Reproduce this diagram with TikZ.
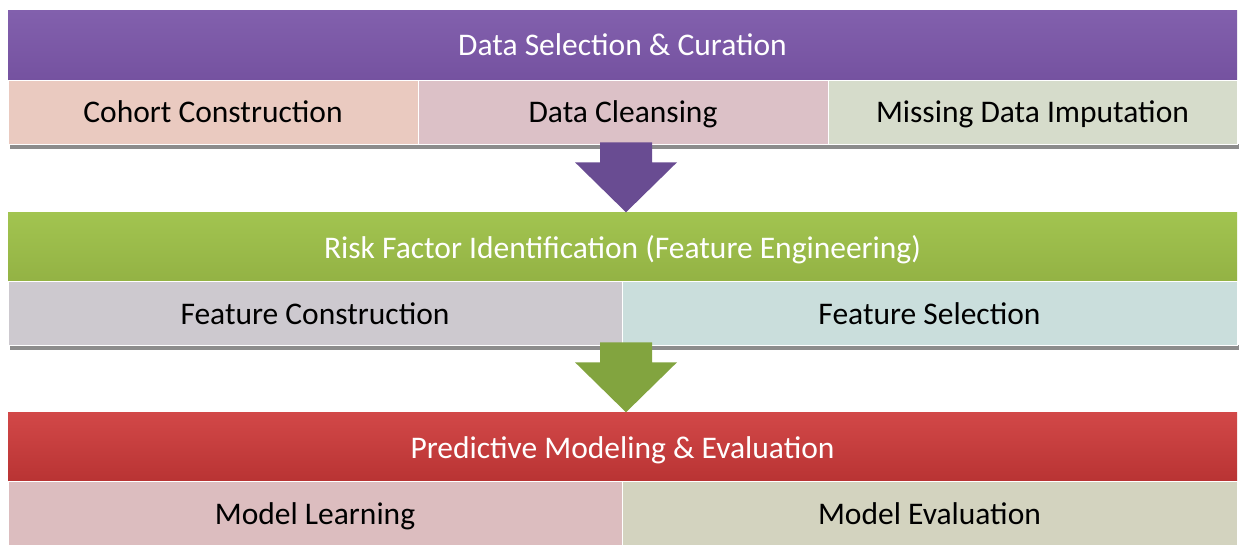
\documentclass[tikz,border=0pt]{standalone}
\usepackage{fontspec}
\setmainfont{Carlito}
\usetikzlibrary{calc}
\definecolor{purpT}{HTML}{8260AD}
\definecolor{purpB}{HTML}{7552A0}
\definecolor{grnT}{HTML}{A2C450}
\definecolor{grnB}{HTML}{93B244}
\definecolor{redT}{HTML}{D24848}
\definecolor{redB}{HTML}{B83333}
\definecolor{cohort}{HTML}{EACAC0}
\definecolor{cleans}{HTML}{DCC1C7}
\definecolor{missing}{HTML}{D6DCCB}
\definecolor{fconst}{HTML}{CDC9CF}
\definecolor{fsel}{HTML}{CADEDC}
\definecolor{mlearn}{HTML}{DCBDBF}
\definecolor{meval}{HTML}{D3D3BF}
\definecolor{arrP}{HTML}{694C92}
\definecolor{arrG}{HTML}{82A43F}
\tikzset{
  hdr/.style={rectangle, minimum width=1229pt, minimum height=70pt, inner sep=0pt,
    text=white, font=\fontsize{31.5}{36}\selectfont, text height=25pt, text depth=4pt},
  subbox/.style={rectangle, minimum height=64pt, inner sep=0pt,
    text=black, font=\fontsize{31.5}{36}\selectfont, text height=25pt, text depth=4pt,
    draw=white, line width=0.8pt},
  shadowbar/.style={fill=black!45}
}
\newcommand{\blockarrowat}[2]{%
  \fill[#2] ($(#1)+(-26,-70)$) -- ($(#1)+(26,-70)$) -- ($(#1)+(26,-50)$) -- ($(#1)+(51,-50)$)
    -- (#1) -- ($(#1)+(-51,-50)$) -- ($(#1)+(-26,-50)$) -- cycle;}
\begin{document}
\begin{tikzpicture}[x=1pt,y=-1pt]
\useasboundingbox (0,0) rectangle (1239,546);
\fill[white] (0,0) rectangle (1239,546);

% shadows
\fill[shadowbar] (10,144) rectangle (1239,149);
\fill[shadowbar] (10,345) rectangle (1239,350);

% row 1
\node[hdr, top color=purpT, bottom color=purpB] (h1) at (622.5,45) {Data Selection \& Curation};
\node[subbox, fill=cohort, minimum width=410pt] (s11) at (213,112) {Cohort Construction};
\node[subbox, fill=cleans, minimum width=410pt] (s12) at (623,112) {Data Cleansing};
\node[subbox, fill=missing, minimum width=409pt] (s13) at (1032.5,112) {Missing Data Imputation};

% row 2
\node[hdr, top color=grnT, bottom color=grnB] (h2) at (622.5,247.5) {Risk Factor Identification (Feature Engineering)};
\node[subbox, fill=fconst, minimum width=614pt] (s21) at (315,313.5) {Feature Construction};
\node[subbox, fill=fsel, minimum width=615pt] (s22) at (929.5,313.5) {Feature Selection};

% row 3
\node[hdr, top color=redT, bottom color=redB] (h3) at (622.5,447.5) {Predictive Modeling \& Evaluation};
\node[subbox, fill=mlearn, minimum width=614pt] (s31) at (315,513.5) {Model Learning};
\node[subbox, fill=meval, minimum width=615pt] (s32) at (929.5,513.5) {Model Evaluation};

% arrows
\coordinate (t1) at ($(h2.north)+(3.5,0)$);
\coordinate (t2) at ($(h3.north)+(3.5,0)$);
\blockarrowat{t1}{arrP}
\blockarrowat{t2}{arrG}
\end{tikzpicture}
\end{document}
